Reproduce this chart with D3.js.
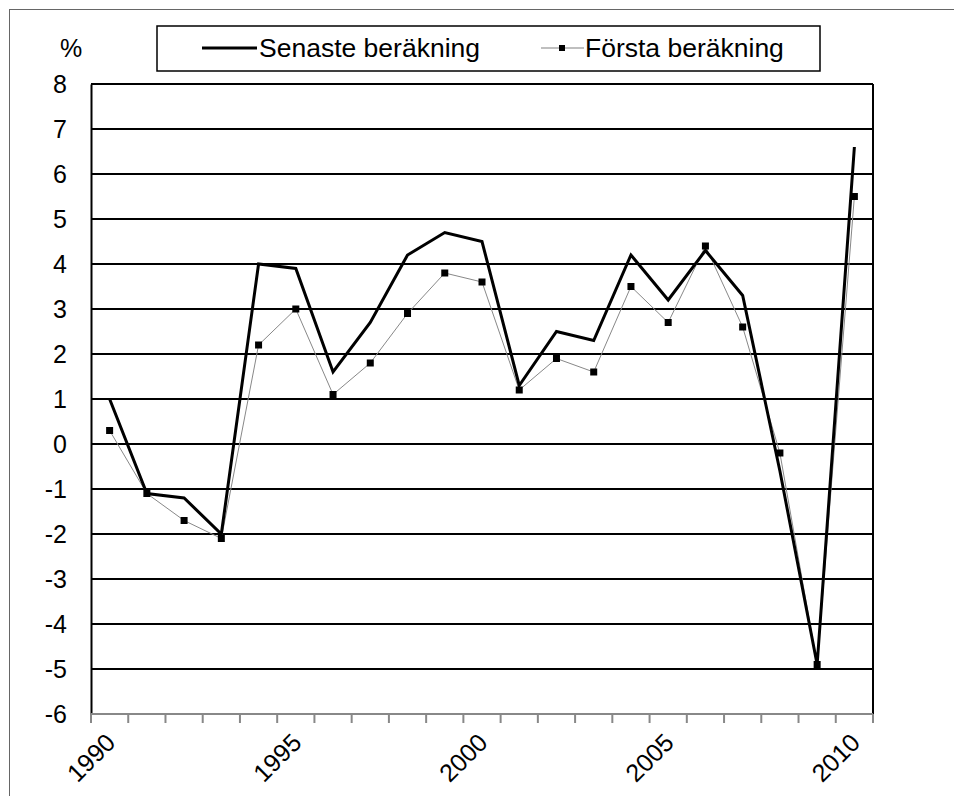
<!DOCTYPE html>
<html>
<head>
<meta charset="utf-8">
<script src="https://cdn.jsdelivr.net/npm/d3@7"></script>
<style>
  body { margin: 0; background: #fff; }
  svg { font-family: "Liberation Sans", Arial, sans-serif; }
</style>
</head>
<body>
<div id="chart"></div>
<script>
const years = d3.range(1990, 2011);
// Senaste beräkning
const senaste = [1.0, -1.1, -1.2, -2.0, 4.0, 3.9, 1.6, 2.7, 4.2, 4.7, 4.5, 1.3, 2.5, 2.3, 4.2, 3.2, 4.3, 3.3, -0.6, -4.9, 6.6];
// Första beräkning
const forsta = [0.3, -1.1, -1.7, -2.1, 2.2, 3.0, 1.1, 1.8, 2.9, 3.8, 3.6, 1.2, 1.9, 1.6, 3.5, 2.7, 4.4, 2.6, -0.2, -4.9, 5.5];
const yTicks = d3.range(-6, 9);
const xLabels = [1990, 1995, 2000, 2005, 2010];

const W = 954, H = 796;
const margin = { top: 84, right: 81, bottom: 82, left: 91 };
const width = W - margin.left - margin.right;
const height = H - margin.top - margin.bottom;

const svg = d3.select('#chart').append('svg')
  .attr('width', W)
  .attr('height', H);

// outer frame
svg.append('rect')
  .attr('x', 9.5).attr('y', 9.5)
  .attr('width', W + 20).attr('height', H + 20)
  .attr('fill', 'none')
  .attr('stroke', '#666')
  .attr('stroke-width', 1);

const g = svg.append('g').attr('transform', 'translate(' + margin.left + ',' + margin.top + ')');

const x = d3.scaleBand().domain(years).range([0, width]);
const y = d3.scaleLinear().domain([-6, 8]).range([height, 0]);

// gridlines
g.append('g')
  .selectAll('line')
  .data(yTicks.filter(d => d > -6))
  .join('line')
  .attr('x1', 0).attr('x2', width)
  .attr('y1', d => y(d)).attr('y2', d => y(d))
  .attr('stroke', '#000')
  .attr('stroke-width', 2);

// right border of plot
g.append('line')
  .attr('x1', width).attr('x2', width)
  .attr('y1', 0).attr('y2', height)
  .attr('stroke', '#000').attr('stroke-width', 2);

// y axis
const yAxis = g.append('g')
  .attr('class', 'y axis')
  .call(d3.axisLeft(y).tickValues(yTicks).tickSize(0).tickPadding(24).tickFormat(d => String(d)));
yAxis.attr('font-size', 25).attr('font-family', '"Liberation Sans", Arial, sans-serif');
yAxis.select('.domain').attr('stroke', '#000').attr('stroke-width', 2);
yAxis.selectAll('text').attr('fill', '#000');

// x axis
const xAxis = g.append('g')
  .attr('class', 'x axis')
  .attr('transform', 'translate(0,' + height + ')');
xAxis.append('line')
  .attr('x1', 0).attr('x2', width)
  .attr('stroke', '#888').attr('stroke-width', 2);
xAxis.selectAll('.tick')
  .data(years.concat([2011]))
  .join('line')
  .attr('class', 'tick')
  .attr('x1', (d, i) => i * x.step()).attr('x2', (d, i) => i * x.step())
  .attr('y1', 0).attr('y2', 9)
  .attr('stroke', '#888').attr('stroke-width', 2);
xAxis.selectAll('.lbl')
  .data(xLabels)
  .join('text')
  .attr('class', 'lbl')
  .attr('transform', d => 'translate(' + (x(d) + x.bandwidth() / 2 + 1) + ',24) rotate(-45)')
  .attr('text-anchor', 'end')
  .attr('dy', '0.35em')
  .attr('font-size', 25)
  .attr('fill', '#000')
  .text(d => d);

const cx = (d, i) => x(years[i]) + x.bandwidth() / 2;
const line = d3.line().x(cx).y(d => y(d));

// Första beräkning
g.append('path')
  .datum(forsta)
  .attr('fill', 'none')
  .attr('stroke', '#888')
  .attr('stroke-width', 1)
  .attr('d', line);
g.append('g')
  .selectAll('rect')
  .data(forsta)
  .join('rect')
  .attr('x', (d, i) => cx(d, i) - 3.5)
  .attr('y', d => y(d) - 3.5)
  .attr('width', 7).attr('height', 7)
  .attr('fill', '#000');

// Senaste beräkning
g.append('path')
  .datum(senaste)
  .attr('fill', 'none')
  .attr('stroke', '#000')
  .attr('stroke-width', 3)
  .attr('stroke-linejoin', 'miter')
  .attr('d', line);

// "%" label
svg.append('text')
  .attr('x', 71).attr('y', 57)
  .attr('text-anchor', 'middle')
  .attr('font-size', 25)
  .text('%');

// legend
const leg = svg.append('g');
leg.append('rect')
  .attr('x', 157).attr('y', 26)
  .attr('width', 663).attr('height', 45)
  .attr('fill', '#fff')
  .attr('stroke', '#000')
  .attr('stroke-width', 1.5);
leg.append('line')
  .attr('x1', 202).attr('x2', 257).attr('y1', 48).attr('y2', 48)
  .attr('stroke', '#000').attr('stroke-width', 3);
leg.append('text')
  .attr('x', 259).attr('y', 57)
  .attr('font-size', 26.5)
  .text('Senaste beräkning');
leg.append('line')
  .attr('x1', 541).attr('x2', 584).attr('y1', 48).attr('y2', 48)
  .attr('stroke', '#aaa').attr('stroke-width', 1.5);
leg.append('rect')
  .attr('x', 559).attr('y', 45)
  .attr('width', 6).attr('height', 6)
  .attr('fill', '#000');
leg.append('text')
  .attr('x', 585).attr('y', 57)
  .attr('font-size', 26.5)
  .text('Första beräkning');
</script>
</body>
</html>
